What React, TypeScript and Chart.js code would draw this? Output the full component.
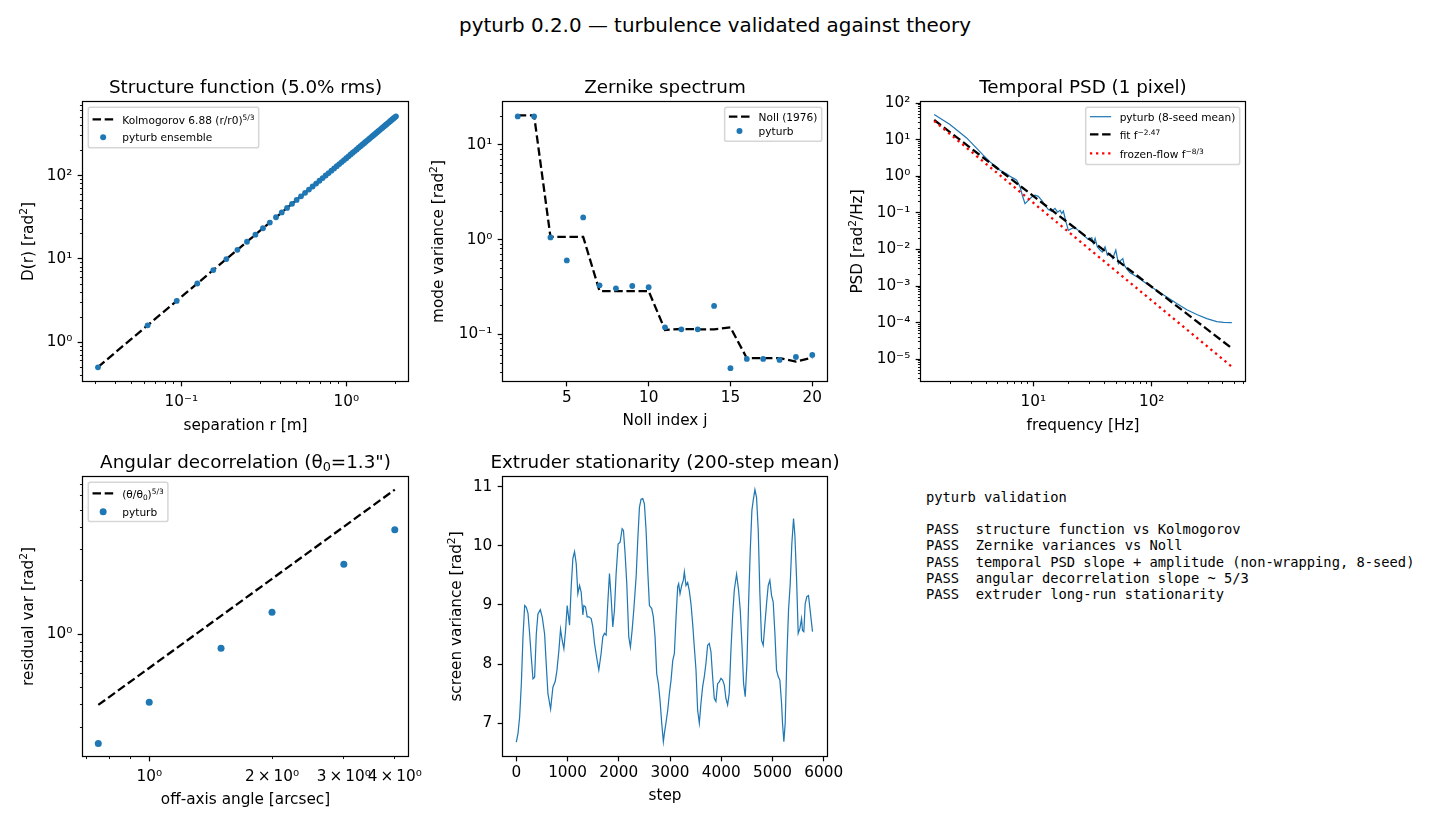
import { useEffect, useRef } from 'react';
import { Chart, registerables } from 'chart.js';

Chart.register(...registerables);

const BLUE = '#1f77b4';
const SANS = '"DejaVu Sans", Verdana, sans-serif';
const MONO = '"DejaVu Sans Mono", monospace';
const PX = 110 / 72; // points → pixels at 110 dpi

const TICK_FONT = 10 * PX;
const LABEL_FONT = 10 * PX;
const TITLE_FONT = 12 * PX;
const LEGEND_FONT = 6.94 * PX;
const LW = 1.5 * PX;
const DASHED = [3.7 * 1.5 * PX, 1.6 * 1.5 * PX];
const DOTTED = [1.0 * 1.5 * PX, 1.65 * 1.5 * PX];

// ── Structure function (5.0% rms) ──
const sfSeparation = [
  0.03125, 0.0625, 0.09375, 0.125, 0.15625, 0.1875, 0.21875, 0.25, 0.28125, 0.3125, 0.34375, 0.375,
  0.40625, 0.4375, 0.46875, 0.5, 0.53125, 0.5625, 0.59375, 0.625, 0.65625, 0.6875, 0.71875, 0.75,
  0.78125, 0.8125, 0.84375, 0.875, 0.90625, 0.9375, 0.96875, 1.0, 1.03125, 1.0625, 1.09375, 1.125,
  1.15625, 1.1875, 1.21875, 1.25, 1.28125, 1.3125, 1.34375, 1.375, 1.40625, 1.4375, 1.46875, 1.5,
  1.53125, 1.5625, 1.59375, 1.625, 1.65625, 1.6875, 1.71875, 1.75, 1.78125, 1.8125, 1.84375, 1.875,
  1.90625, 1.9375, 1.96875, 2.0,
];
const sfEnsemble = [
  0.5, 1.6, 3.14, 5.08, 7.36, 9.98, 12.9, 16.1, 19.6, 23.4, 27.4, 31.7,
  36.2, 41.0, 45.9, 51.2, 56.6, 62.3, 68.1, 74.2, 80.5, 87.0, 93.6, 100.5,
  107.6, 114.9, 122.4, 130.1, 137.9, 145.9, 154.1, 162.5, 171.0, 179.8, 188.7, 197.8,
  207.0, 216.4, 226.0, 235.7, 245.6, 255.7, 265.9, 276.3, 286.8, 297.5, 308.3, 319.3,
  330.5, 341.8, 353.3, 364.9, 376.7, 388.6, 400.7, 412.9, 425.2, 437.8, 450.4, 463.2,
  476.1, 489.2, 502.5, 515.8,
];
const kolmogorovR = [0.03125, 2.0];
const kolmogorovD = [0.504, 515.8];
const sfXTicks = [0.1, 1];
const sfXLabels = ['10⁻¹', '10⁰'];
const sfYTicks = [1, 10, 100];
const sfYLabels = ['10⁰', '10¹', '10²'];

// ── Zernike spectrum ──
const nollIndex = [2, 3, 4, 5, 6, 7, 8, 9, 10, 11, 12, 13, 14, 15, 16, 17, 18, 19, 20];
const zernikeMeasured = [
  20.0, 20.0, 1.057, 0.605, 1.718, 0.33, 0.307, 0.325, 0.315, 0.119,
  0.1135, 0.1135, 0.2, 0.0441, 0.0552, 0.0552, 0.0539, 0.0579, 0.0608,
];
const nollTheory = [
  20.5, 20.5, 1.073, 1.073, 1.073, 0.2875, 0.2875, 0.2875, 0.2875, 0.1116,
  0.1143, 0.1135, 0.1135, 0.119, 0.0562, 0.0562, 0.0562, 0.0518, 0.057,
];
const znXTicks = [5, 10, 15, 20];
const znXLabels = ['5', '10', '15', '20'];
const znYTicks = [0.1, 1, 10];
const znYLabels = ['10⁻¹', '10⁰', '10¹'];

// ── Temporal PSD (1 pixel) ──
const psdFreq = [
  1.455, 1.977, 2.735, 3.776, 4.305, 4.909, 5.236, 5.957, 6.353, 6.998, 7.244, 7.727,
  8.072, 8.511, 9.078, 9.683, 10.33, 11.02, 11.78, 12.56, 13.4, 14.32, 15.24, 16.07,
  16.83, 17.38, 17.95, 18.88, 19.77, 21.13, 22.49, 23.99, 26.49, 29.17, 31.19, 32.14,
  33.27, 34.75, 36.64, 38.28, 40.36, 42.27, 44.46, 46.88, 49.77, 52.36, 54.83, 57.02,
  58.75, 61.66, 65.61, 74.82, 90.78, 110.4, 134.3, 162.9, 198.2, 240.4, 292.4, 354.8,
  403.6, 475.3,
];
const psdMean = [
  48.6, 25.9, 11.1, 3.75, 2.46, 1.78, 1.45, 1.17, 1.0, 0.832, 0.776, 0.513,
  0.302, 0.178, 0.219, 0.269, 0.302, 0.282, 0.219, 0.162, 0.123, 0.11, 0.132, 0.105,
  0.117, 0.0955, 0.112, 0.0562, 0.0331, 0.0372, 0.0398, 0.0331, 0.0245, 0.0186, 0.0209, 0.0145,
  0.02, 0.0117, 0.00955, 0.00851, 0.0117, 0.00692, 0.00776, 0.00562, 0.00955, 0.00407, 0.00501, 0.00562,
  0.00372, 0.00295, 0.00229, 0.00178, 0.00115, 7.59e-4, 5.01e-4, 3.31e-4, 2.24e-4, 1.66e-4, 1.29e-4, 1.07e-4,
  1.02e-4, 1.0e-4,
];
const fitFreq = [1.455, 475.3];
const fitPsd = [34.3, 1.99e-5];
const frozenFreq = [1.455, 475.3];
const frozenPsd = [32.2, 6.24e-6];
const psdXTicks = [10, 100];
const psdXLabels = ['10¹', '10²'];
const psdYTicks = [1e-5, 1e-4, 1e-3, 1e-2, 1e-1, 1, 10, 100];
const psdYLabels = ['10⁻⁵', '10⁻⁴', '10⁻³', '10⁻²', '10⁻¹', '10⁰', '10¹', '10²'];

// ── Angular decorrelation ──
const offAxisAngle = [0.75, 1, 1.5, 2, 3, 4];
const residualVar = [0.243, 0.414, 0.834, 1.33, 2.48, 3.87];
const theoryVar = [0.4, 0.646, 1.269, 2.05, 4.03, 6.51];
const angXTicks = [1, 2, 3, 4];
const angXLabels = ['10⁰', '2\u2009×\u200910⁰', '3\u2009×\u200910⁰', '4\u2009×\u200910⁰'];
const angYTicks = [1];
const angYLabels = ['10⁰'];

// ── Extruder stationarity (200-step mean) ──
const extruderStep = [
  0, 33, 65, 98, 130, 163, 195, 228, 260, 292, 325, 357, 390, 422, 468, 507, 552, 584, 617, 669,
  714, 760, 792, 831, 863, 896, 928, 961, 993, 1039, 1071, 1104, 1136, 1169, 1201, 1234, 1266, 1299, 1318, 1350,
  1383, 1415, 1461, 1493, 1526, 1571, 1610, 1655, 1688, 1720, 1753, 1785, 1818, 1850, 1883, 1915, 1948, 1987, 2026, 2065,
  2091, 2123, 2156, 2195, 2227, 2260, 2292, 2338, 2370, 2403, 2435, 2468, 2500, 2533, 2565, 2598, 2643, 2675, 2708, 2740,
  2773, 2805, 2838, 2870, 2890, 2923, 2955, 2987, 3020, 3053, 3085, 3118, 3150, 3169, 3195, 3228, 3260, 3280, 3312, 3344,
  3377, 3409, 3442, 3474, 3507, 3539, 3572, 3604, 3637, 3669, 3701, 3734, 3766, 3799, 3831, 3864, 3896, 3929, 3961, 3994,
  4026, 4059, 4091, 4124, 4156, 4189, 4221, 4254, 4299, 4338, 4371, 4403, 4436, 4468, 4501, 4533, 4566, 4598, 4624, 4657,
  4689, 4722, 4754, 4787, 4819, 4852, 4884, 4917, 4949, 4982, 5014, 5047, 5079, 5112, 5144, 5177, 5196, 5222, 5248, 5281,
  5313, 5346, 5378, 5411, 5437, 5469, 5502, 5534, 5567, 5586, 5612, 5638, 5670, 5703, 5735, 5781,
];
const extruderVar = [
  6.68, 6.83, 7.11, 7.67, 8.46, 8.99, 8.96, 8.86, 8.51, 8.12, 7.75, 7.78, 8.51, 8.85, 8.92, 8.79, 8.51, 8.0, 7.5, 7.24,
  7.61, 7.71, 7.89, 8.23, 8.59, 8.4, 8.26, 8.57, 8.99, 8.66, 9.31, 9.79, 9.9, 9.7, 9.19, 9.33, 9.22, 8.83, 8.99, 8.97,
  8.8, 8.8, 8.77, 8.63, 8.35, 8.1, 7.9, 8.18, 8.46, 8.52, 8.49, 9.02, 9.53, 9.14, 8.63, 8.91, 9.53, 10.03, 10.06, 10.29,
  10.26, 9.87, 9.36, 8.46, 8.29, 8.57, 8.91, 9.47, 10.09, 10.65, 10.79, 10.8, 10.71, 10.26, 9.58, 8.99, 8.94, 8.8, 8.46, 7.84,
  7.67, 7.39, 7.0, 6.69, 6.83, 7.02, 7.22, 7.5, 7.73, 8.06, 8.18, 8.8, 9.31, 9.36, 9.19, 9.33, 9.42, 9.56, 9.33, 9.38,
  9.24, 9.02, 8.68, 8.29, 7.9, 7.22, 7.0, 7.34, 7.62, 7.79, 8.01, 8.32, 8.35, 8.21, 7.79, 7.42, 7.37, 7.67, 7.7, 7.76,
  7.73, 7.65, 7.42, 7.31, 7.51, 8.24, 8.8, 9.25, 9.52, 9.25, 8.91, 8.35, 7.67, 7.45, 8.01, 9.02, 9.92, 10.6, 10.77, 10.95,
  10.82, 10.26, 9.19, 8.4, 8.32, 8.68, 9.02, 9.33, 9.42, 9.16, 9.05, 8.52, 7.9, 7.79, 7.73, 7.34, 7.0, 6.69, 7.0, 8.12,
  8.91, 9.36, 10.04, 10.46, 10.18, 9.47, 8.52, 8.6, 8.77, 8.57, 8.55, 9.02, 9.14, 9.16, 8.91, 8.55,
];
const exXTicks = [0, 1000, 2000, 3000, 4000, 5000, 6000];
const exXLabels = ['0', '1000', '2000', '3000', '4000', '5000', '6000'];
const exYTicks = [7, 8, 9, 10, 11];
const exYLabels = ['7', '8', '9', '10', '11'];

const REPORT = [
  'pyturb validation',
  '',
  'PASS  structure function vs Kolmogorov',
  'PASS  Zernike variances vs Noll',
  'PASS  temporal PSD slope + amplitude (non-wrapping, 8-seed)',
  'PASS  angular decorrelation slope ~ 5/3',
  'PASS  extruder long-run stationarity',
];

// ── helpers ──
type Seg = { t: string; s?: 'sup' | 'sub' };
const txt = (t: string): Seg => ({ t });
const sup = (t: string): Seg => ({ t, s: 'sup' });
const sub = (t: string): Seg => ({ t, s: 'sub' });

type AxisSpec = {
  type: 'linear' | 'logarithmic';
  min: number;
  max: number;
  ticks: number[];
  labels: string[];
  major: number[];
  minor: number[];
  pad: number;
};
type LegendItem = {
  kind: 'line' | 'marker';
  color: string;
  width?: number;
  dash?: number[];
  radius?: number;
  label: Seg[];
  cy: number;
};
type LegendSpec = { side: 'left' | 'right'; height: number; items: LegendItem[] };
type PanelSpec = {
  box: [number, number, number, number];
  title: Seg[];
  xLabel: Seg[];
  xLabelDrop: number;
  yLabel: Seg[];
  yLabelGap: number;
  x: AxisSpec;
  y: AxisSpec;
  datasets: any[];
  legend?: LegendSpec;
};

const pts = (xs: number[], ys: number[]) => xs.map((x, i) => ({ x, y: ys[i] }));

function logMinors(lo: number, hi: number): number[] {
  const out: number[] = [];
  for (let e = Math.floor(Math.log10(lo)); e <= Math.ceil(Math.log10(hi)); e++) {
    for (let k = 2; k <= 9; k++) {
      const v = k * Math.pow(10, e);
      if (v >= lo && v <= hi) out.push(v);
    }
  }
  return out;
}

const fontStr = (size: number) => `${size}px ${SANS}`;

function segsWidth(ctx: CanvasRenderingContext2D, segs: Seg[], size: number) {
  let w = 0;
  for (const s of segs) {
    ctx.font = fontStr(s.s ? size * 0.7 : size);
    w += ctx.measureText(s.t).width;
  }
  return w;
}

function drawSegs(
  ctx: CanvasRenderingContext2D,
  segs: Seg[],
  x: number,
  y: number,
  size: number,
  align: 'left' | 'center',
) {
  const w = segsWidth(ctx, segs, size);
  let cx = align === 'center' ? x - w / 2 : x;
  ctx.textAlign = 'left';
  ctx.textBaseline = 'alphabetic';
  ctx.fillStyle = '#000';
  for (const s of segs) {
    const sz = s.s ? size * 0.7 : size;
    ctx.font = fontStr(sz);
    const dy = s.s === 'sup' ? -0.34 * size : s.s === 'sub' ? 0.15 * size : 0;
    ctx.fillText(s.t, cx, y + dy);
    cx += ctx.measureText(s.t).width;
  }
}

function drawLegend(ctx: CanvasRenderingContext2D, a: any, lg: LegendSpec) {
  if (!lg.items.length) return;
  const fs = LEGEND_FONT;
  const pad = 0.4 * fs;
  const hl = 2 * fs;
  const htp = 0.8 * fs;
  const bap = 0.5 * fs;
  let tw = 0;
  for (const it of lg.items) tw = Math.max(tw, segsWidth(ctx, it.label, fs));
  const w = pad + hl + htp + tw + pad;
  const x0 = lg.side === 'left' ? a.left + bap : a.right - bap - w;
  const y0 = a.top + bap;
  const r = 0.2 * fs;
  ctx.beginPath();
  ctx.moveTo(x0 + r, y0);
  ctx.arcTo(x0 + w, y0, x0 + w, y0 + lg.height, r);
  ctx.arcTo(x0 + w, y0 + lg.height, x0, y0 + lg.height, r);
  ctx.arcTo(x0, y0 + lg.height, x0, y0, r);
  ctx.arcTo(x0, y0, x0 + w, y0, r);
  ctx.closePath();
  ctx.fillStyle = 'rgba(255,255,255,0.8)';
  ctx.fill();
  ctx.strokeStyle = 'rgba(204,204,204,0.8)';
  ctx.lineWidth = 1 * PX;
  ctx.stroke();
  for (const it of lg.items) {
    const cy = y0 + it.cy;
    const hx = x0 + pad;
    if (it.kind === 'line') {
      ctx.beginPath();
      ctx.setLineDash(it.dash || []);
      ctx.lineCap = 'butt';
      ctx.strokeStyle = it.color;
      ctx.lineWidth = it.width || LW;
      ctx.moveTo(hx, cy);
      ctx.lineTo(hx + hl, cy);
      ctx.stroke();
      ctx.setLineDash([]);
    } else {
      ctx.beginPath();
      ctx.fillStyle = it.color;
      ctx.arc(hx + hl / 2, cy, it.radius || 3, 0, Math.PI * 2);
      ctx.fill();
    }
    const hasSup = it.label.some((s) => s.s === 'sup');
    drawSegs(ctx, it.label, hx + hl + htp, cy + 0.36 * fs + (hasSup ? 0.9 : 0), fs, 'left');
  }
}

function decorations(spec: PanelSpec) {
  return {
    id: 'panelDecor',
    afterDraw(chart: any) {
      const ctx: CanvasRenderingContext2D = chart.ctx;
      const a = chart.chartArea;
      const xs = chart.scales.x;
      const ys = chart.scales.y;
      ctx.save();
      ctx.strokeStyle = '#000';
      ctx.lineWidth = 0.8 * PX;
      ctx.setLineDash([]);
      ctx.strokeRect(a.left - 0.5, a.top - 0.5, a.right - a.left + 1, a.bottom - a.top + 1);

      const snap = (v: number) => Math.round(v - 0.5) + 0.5;
      const xTicks = (vals: number[], len: number, w: number) => {
        ctx.lineWidth = w;
        for (const v of vals) {
          const p = xs.getPixelForValue(v);
          if (p < a.left - 1 || p > a.right + 1) continue;
          ctx.beginPath();
          ctx.moveTo(snap(p), a.bottom);
          ctx.lineTo(snap(p), a.bottom + len);
          ctx.stroke();
        }
      };
      const yTicks = (vals: number[], len: number, w: number) => {
        ctx.lineWidth = w;
        for (const v of vals) {
          const p = ys.getPixelForValue(v);
          if (p < a.top - 1 || p > a.bottom + 1) continue;
          ctx.beginPath();
          ctx.moveTo(a.left, snap(p));
          ctx.lineTo(a.left - len, snap(p));
          ctx.stroke();
        }
      };
      xTicks(spec.x.major, 3.5 * PX, 0.8 * PX);
      xTicks(spec.x.minor, 2 * PX, 0.6 * PX);
      yTicks(spec.y.major, 3.5 * PX, 0.8 * PX);
      yTicks(spec.y.minor, 2 * PX, 0.6 * PX);

      const midX = (a.left + a.right) / 2;
      const midY = (a.top + a.bottom) / 2;
      drawSegs(ctx, spec.title, midX, a.top - 6 * PX, TITLE_FONT, 'center');
      drawSegs(ctx, spec.xLabel, midX, a.bottom + spec.xLabelDrop, LABEL_FONT, 'center');
      ctx.save();
      ctx.translate(a.left - spec.yLabelGap, midY);
      ctx.rotate(-Math.PI / 2);
      drawSegs(ctx, spec.yLabel, 0, 0, LABEL_FONT, 'center');
      ctx.restore();

      if (spec.legend) drawLegend(ctx, a, spec.legend);
      ctx.restore();
    },
  };
}

const ML = 80;
const MT = 45;
const MR = 30;
const MB = 60;

function axisOptions(kind: 'x' | 'y', ax: AxisSpec, fitSize: number) {
  return {
    type: ax.type,
    position: kind === 'x' ? 'bottom' : 'left',
    min: ax.min,
    max: ax.max,
    bounds: 'data',
    grid: { display: true, drawOnChartArea: false, drawTicks: true, tickLength: 4, tickColor: 'rgba(0,0,0,0)' },
    border: { display: false },
    title: { display: false },
    ticks: {
      autoSkip: false,
      maxRotation: 0,
      minRotation: 0,
      color: '#000',
      font: { family: SANS, size: TICK_FONT },
      padding: ax.pad,
      callback: (_v: any, i: number) => ax.labels[i],
    },
    afterBuildTicks: (s: any) => {
      s.ticks = ax.ticks.map((v) => ({ value: v }));
    },
    afterFit: (s: any) => {
      if (kind === 'x') {
        s.height = fitSize;
        s.paddingLeft = 0;
        s.paddingRight = 0;
      } else {
        s.width = fitSize;
        s.paddingTop = 0;
        s.paddingBottom = 0;
      }
    },
  };
}

function Panel({ spec }: { spec: PanelSpec }) {
  const ref = useRef<HTMLCanvasElement>(null);
  const [L, T, R, B] = spec.box;
  const cx = L - ML;
  const cy = T - MT;
  const cw = R - L + ML + MR;
  const ch = B - T + MT + MB;
  useEffect(() => {
    const chart = new Chart(ref.current as HTMLCanvasElement, {
      type: 'scatter',
      data: { datasets: spec.datasets },
      options: {
        responsive: false,
        animation: false,
        devicePixelRatio: 1,
        events: [],
        layout: { padding: { left: 0, top: MT, right: MR, bottom: 0 } },
        plugins: { legend: { display: false }, title: { display: false }, tooltip: { enabled: false } },
        scales: {
          x: axisOptions('x', spec.x, MB),
          y: axisOptions('y', spec.y, ML),
        },
      } as any,
      plugins: [decorations(spec)],
    });
    return () => chart.destroy();
  }, []);
  return (
    <canvas
      ref={ref}
      width={cw}
      height={ch}
      style={{ position: 'absolute', left: cx, top: cy, width: cw, height: ch }}
    />
  );
}

const lineSet = (xs: number[], ys: number[], color: string, width: number, dash: number[], order: number) => ({
  data: pts(xs, ys),
  showLine: true,
  pointRadius: 0,
  pointHoverRadius: 0,
  borderColor: color,
  backgroundColor: color,
  borderWidth: width,
  borderDash: dash,
  borderCapStyle: 'butt',
  tension: 0,
  order,
});
const dotSet = (xs: number[], ys: number[], radius: number, order: number) => ({
  data: pts(xs, ys),
  showLine: false,
  pointRadius: radius,
  pointHoverRadius: radius,
  backgroundColor: BLUE,
  borderWidth: 0,
  order,
});

const panels: PanelSpec[] = [
  {
    box: [83, 102, 408, 381],
    title: [txt('Structure function (5.0% rms)')],
    xLabel: [txt('separation r [m]')],
    xLabelDrop: 48.5,
    yLabel: [txt('D(r) [rad'), sup('2'), txt(']')],
    yLabelGap: 50.5,
    x: { type: 'logarithmic', min: 0.02536, max: 2.366, ticks: sfXTicks, labels: sfXLabels, major: sfXTicks, minor: logMinors(0.02536, 2.366), pad: 7.5 },
    y: { type: 'logarithmic', min: 0.343, max: 767, ticks: sfYTicks, labels: sfYLabels, major: sfYTicks, minor: logMinors(0.343, 767), pad: 6.7 },
    datasets: [
      lineSet(kolmogorovR, kolmogorovD, '#000', LW, DASHED, 2),
      dotSet(sfSeparation, sfEnsemble, 2.9, 1),
    ],
    legend: {
      side: 'left',
      height: 40.5,
      items: [
        { kind: 'line', color: '#000', dash: DASHED, label: [txt('Kolmogorov 6.88 (r/r0)'), sup('5/3')], cy: 12 },
        { kind: 'marker', color: BLUE, radius: 3, label: [txt('pyturb ensemble')], cy: 30 },
      ],
    },
  },
  {
    box: [503, 102, 827, 381],
    title: [txt('Zernike spectrum')],
    xLabel: [txt('Noll index j')],
    xLabelDrop: 44,
    yLabel: [txt('mode variance [rad'), sup('2'), txt(']')],
    yLabelGap: 60.5,
    x: { type: 'linear', min: 1.1, max: 20.9, ticks: znXTicks, labels: znXLabels, major: znXTicks, minor: [], pad: 3.8 },
    y: { type: 'logarithmic', min: 0.0323, max: 28.4, ticks: znYTicks, labels: znYLabels, major: znYTicks, minor: logMinors(0.0323, 28.4), pad: 6.7 },
    datasets: [
      lineSet(nollIndex, nollTheory, '#000', LW, DASHED, 2),
      dotSet(nollIndex, zernikeMeasured, 2.9, 1),
    ],
    legend: {
      side: 'right',
      height: 34,
      items: [
        { kind: 'line', color: '#000', dash: DASHED, label: [txt('Noll (1976)')], cy: 9.4 },
        { kind: 'marker', color: BLUE, radius: 3, label: [txt('pyturb')], cy: 23.7 },
      ],
    },
  },
  {
    box: [921, 102, 1245, 381],
    title: [txt('Temporal PSD (1 pixel)')],
    xLabel: [txt('frequency [Hz]')],
    xLabelDrop: 48.5,
    yLabel: [txt('PSD [rad'), sup('2'), txt('/Hz]')],
    yLabelGap: 59.4,
    x: { type: 'logarithmic', min: 1.126, max: 614, ticks: psdXTicks, labels: psdXLabels, major: psdXTicks, minor: logMinors(1.126, 614), pad: 7.5 },
    y: { type: 'logarithmic', min: 2.54e-6, max: 106.5, ticks: psdYTicks, labels: psdYLabels, major: psdYTicks, minor: logMinors(2.54e-6, 106.5), pad: 6.7 },
    datasets: [
      lineSet(psdFreq, psdMean, BLUE, 0.8 * PX, [], 3),
      lineSet(fitFreq, fitPsd, '#000', LW, DASHED, 2),
      lineSet(frozenFreq, frozenPsd, '#ff0000', LW, DOTTED, 1),
    ],
    legend: {
      side: 'right',
      height: 57.3,
      items: [
        { kind: 'line', color: BLUE, width: 0.8 * PX, label: [txt('pyturb (8-seed mean)')], cy: 9.4 },
        { kind: 'line', color: '#000', dash: DASHED, label: [txt('fit f'), sup('−2.47')], cy: 27 },
        { kind: 'line', color: '#ff0000', dash: DOTTED, label: [txt('frozen-flow f'), sup('−8/3')], cy: 46 },
      ],
    },
  },
  {
    box: [83, 477, 408, 756],
    title: [txt('Angular decorrelation (θ'), sub('0'), txt('=1.3")')],
    xLabel: [txt('off-axis angle [arcsec]')],
    xLabelDrop: 47.5,
    yLabel: [txt('residual var [rad'), sup('2'), txt(']')],
    yLabelGap: 50.5,
    x: { type: 'logarithmic', min: 0.688, max: 4.31, ticks: angXTicks, labels: angXLabels, major: [1], minor: logMinors(0.688, 4.31), pad: 7.5 },
    y: { type: 'logarithmic', min: 0.2064, max: 7.674, ticks: angYTicks, labels: angYLabels, major: angYTicks, minor: logMinors(0.2064, 7.674), pad: 6.7 },
    datasets: [
      lineSet(offAxisAngle, theoryVar, '#000', LW, DASHED, 2),
      dotSet(offAxisAngle, residualVar, 3.5, 1),
    ],
    legend: {
      side: 'left',
      height: 39.3,
      items: [
        { kind: 'line', color: '#000', dash: DASHED, label: [txt('(θ/θ'), sub('0'), txt(')'), sup('5/3')], cy: 11 },
        { kind: 'marker', color: BLUE, radius: 3.5, label: [txt('pyturb')], cy: 29.4 },
      ],
    },
  },
  {
    box: [503, 477, 827, 756],
    title: [txt('Extruder stationarity (200-step mean)')],
    xLabel: [txt('step')],
    xLabelDrop: 44,
    yLabel: [txt('screen variance [rad'), sup('2'), txt(']')],
    yLabelGap: 42.4,
    x: { type: 'linear', min: -260, max: 6064, ticks: exXTicks, labels: exXLabels, major: exXTicks, minor: [], pad: 3.8 },
    y: { type: 'linear', min: 6.447, max: 11.164, ticks: exYTicks, labels: exYLabels, major: exYTicks, minor: [], pad: 6.7 },
    datasets: [lineSet(extruderStep, extruderVar, BLUE, 0.8 * PX, [], 1)],
  },
];

export default function App() {
  return (
    <div
      style={{
        position: 'absolute',
        left: 0,
        top: 0,
        width: 1430,
        height: 825,
        background: '#fff',
        overflow: 'hidden',
      }}
    >
      <div
        style={{
          position: 'absolute',
          left: 0,
          top: 15.6,
          width: 1430,
          textAlign: 'center',
          fontFamily: SANS,
          fontSize: '19.9px',
          lineHeight: '19.9px',
          color: '#000',
          whiteSpace: 'pre',
        }}
      >
        pyturb 0.2.0 — turbulence validated against theory
      </div>
      {panels.map((p, i) => (
        <Panel key={i} spec={p} />
      ))}
      <pre
        style={{
          position: 'absolute',
          left: 926,
          top: 488.5,
          margin: 0,
          fontFamily: MONO,
          fontSize: '13.75px',
          lineHeight: '16.3px',
          color: '#000',
        }}
      >
        {REPORT.join('\n')}
      </pre>
    </div>
  );
}
